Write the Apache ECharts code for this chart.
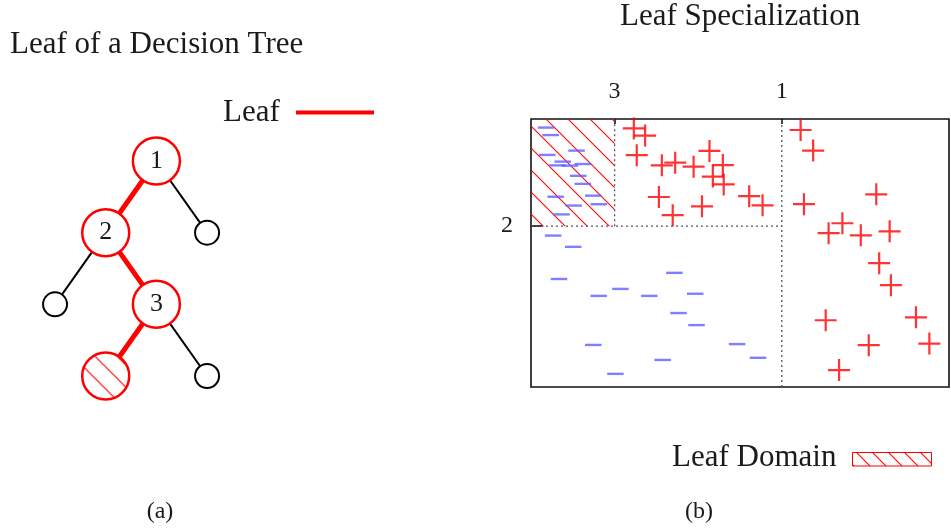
<!DOCTYPE html>
<html>
<head>
<meta charset="utf-8">
<script src="https://cdn.jsdelivr.net/npm/echarts@6/dist/echarts.min.js"></script>
<style>
  html, body { margin: 0; padding: 0; background: #fff; }
  #chart { width: 951px; height: 528px; }
</style>
</head>
<body>
<div id="chart"></div>
<script>
// ---- Decision tree (panel a) ----
// kind: 'split' = internal test node, 'chosen' = the highlighted leaf, 'leaf' = other leaves
const treeData = {
  name: '1', kind: 'split', children: [
    { name: '2', kind: 'split', children: [
      { name: '', kind: 'leaf' },
      { name: '3', kind: 'split', children: [
        { name: '', kind: 'chosen' },
        { name: '', kind: 'leaf' }
      ] }
    ] },
    { name: '', kind: 'leaf' }
  ]
};

// ---- Feature space (panel b), both axes in 0..100 ----
const axisMin = 0;
const axisMax = 100;
const splitX3 = 20;   // threshold of node 3
const splitX1 = 60;   // threshold of node 1
const splitY2 = 60;   // threshold of node 2
const xSplitTicks = [splitX3, splitX1];
const xSplitNames = ['3', '1'];
const ySplitTicks = [splitY2];
const ySplitNames = ['2'];

// class "-" samples
const negativePoints = [
  [3.6, 96.8], [4.7, 94.0], [10.9, 88.2], [3.9, 86.6], [7.6, 84.1], [12.4, 83.2],
  [6.3, 82.7], [9.3, 82.6], [11.3, 78.8], [12.4, 75.8], [14.9, 71.4], [5.9, 71.0],
  [16.2, 68.2], [10.2, 67.7], [7.3, 64.4],
  [5.3, 56.5], [10.1, 52.3], [34.3, 42.6], [6.7, 40.3], [21.4, 36.6], [16.2, 34.0],
  [28.3, 34.0], [39.3, 34.8], [35.3, 27.6], [39.6, 23.1], [14.9, 15.7], [49.3, 16.0],
  [54.3, 10.9], [31.5, 10.1], [20.2, 4.9]
];

// class "+" samples
const positivePoints = [
  [24.6, 96.5], [27.3, 93.8], [25.3, 86.5], [31.3, 82.7], [34.5, 83.7], [38.9, 82.2],
  [42.7, 88.1], [45.9, 82.8], [43.5, 78.5], [46.1, 75.6], [30.6, 70.9], [33.9, 64.1],
  [40.9, 67.4], [52.2, 71.2], [55.4, 67.8],
  [64.5, 95.9], [67.5, 88.2], [65.3, 68.2], [82.6, 71.9], [74.5, 61.1], [71.2, 57.4],
  [78.9, 56.6], [85.8, 58.1], [83.3, 46.2], [86.1, 38.0], [70.5, 24.9], [92.1, 26.0],
  [80.8, 15.6], [95.3, 16.2], [73.7, 6.3]
];

// ---- styling ----
const RED = '#ff0000';
const BLUE = '#5f5fff';
const INK = '#1a1a1a';
const SERIF = '"Liberation Serif", "DejaVu Serif", serif';

// tile of "\" hatching lines, spacing px horizontally
function hatchTile(spacing, offset, background) {
  const c = document.createElement('canvas');
  c.width = spacing; c.height = spacing;
  const g = c.getContext('2d');
  if (background) {
    g.fillStyle = background;
    g.fillRect(0, 0, spacing, spacing);
  }
  g.strokeStyle = RED;
  g.lineWidth = 1.1;
  for (let k = -2; k <= 2; k++) {
    const x0 = offset + k * spacing;
    g.beginPath();
    g.moveTo(x0 - 2, -2);
    g.lineTo(x0 + spacing + 2, spacing + 2);
    g.stroke();
  }
  return c;
}
const plotHatch = hatchTile(22, 9);
const nodeHatch = hatchTile(22, 9, '#ffffff');
const legendHatch = hatchTile(16, 4);

function hatchFill(tile, scale) {
  return { image: tile, repeat: 'repeat', scaleX: scale, scaleY: scale };
}

const BIG = 47;
const SMALL = 24;

function styleNode(n) {
  const isLeaf = n.kind === 'leaf';
  const size = isLeaf ? SMALL : BIG;
  const out = {
    name: n.name,
    symbolSize: size,
    itemStyle: isLeaf
      ? { color: '#fff', borderColor: '#000', borderWidth: 2 }
      : { color: n.kind === 'chosen' ? hatchFill(nodeHatch, 2 / size) : '#fff',
          borderColor: RED, borderWidth: 2.5 },
    lineStyle: isLeaf
      ? { color: '#000', width: 2, curveness: 0 }
      : { color: RED, width: 5, curveness: 0 },
    label: { show: n.kind === 'split' }
  };
  if (n.children) out.children = n.children.map(styleNode);
  return out;
}

const plusPath = 'path://M9,0h2v9h9v2h-9v9h-2v-9h-9v-2h9z';

const dotted = { color: '#555', width: 1.3, type: [2, 3] };

function splitLine(points, extra) {
  return Object.assign({
    type: 'line', data: points, symbol: 'none', silent: true,
    lineStyle: dotted, z: 1, animation: false
  }, extra || {});
}

const chart = echarts.init(document.getElementById('chart'), null, { renderer: 'canvas' });

chart.setOption({
  animation: false,
  backgroundColor: '#fff',
  grid: {
    left: 531, top: 119, width: 418, height: 268,
    show: true, borderColor: '#111', borderWidth: 1.6, backgroundColor: 'transparent'
  },
  xAxis: {
    type: 'value', position: 'top', min: axisMin, max: axisMax,
    axisLine: { show: false, onZero: false },
    splitLine: { show: false },
    axisTick: { show: true, inside: true, length: 5, customValues: xSplitTicks,
      lineStyle: { color: '#000', width: 1.5 } },
    axisLabel: { show: true, customValues: xSplitTicks, margin: 15,
      formatter: v => xSplitNames[xSplitTicks.indexOf(v)] || '',
      fontFamily: SERIF, fontSize: 24, color: INK }
  },
  yAxis: {
    type: 'value', min: axisMin, max: axisMax,
    axisLine: { show: false, onZero: false },
    splitLine: { show: false },
    axisTick: { show: true, inside: true, length: 12, customValues: ySplitTicks,
      lineStyle: { color: '#000', width: 1.5 } },
    axisLabel: { show: true, customValues: ySplitTicks, margin: 18,
      formatter: v => ySplitNames[ySplitTicks.indexOf(v)] || '',
      fontFamily: SERIF, fontSize: 24, color: INK }
  },
  series: [
    // leaf domain of node 3's left child
    splitLine([[splitX1, axisMin], [splitX1, axisMax]], {
      markArea: {
        silent: true,
        itemStyle: { color: hatchFill(plotHatch, 1), borderWidth: 0 },
        data: [[{ coord: [axisMin, splitY2] }, { coord: [splitX3, axisMax] }]]
      }
    }),
    splitLine([[axisMin, splitY2], [splitX1, splitY2]]),
    splitLine([[splitX3, splitY2], [splitX3, axisMax]]),
    {
      type: 'scatter', data: negativePoints, symbol: 'rect', symbolSize: [16.5, 2.4],
      itemStyle: { color: BLUE }, z: 3, silent: true
    },
    {
      type: 'scatter', data: positivePoints, symbol: plusPath, symbolSize: 22,
      itemStyle: { color: RED }, z: 4, silent: true
    },
    {
      type: 'tree',
      data: [styleNode(treeData)],
      orient: 'TB',
      layout: 'orthogonal',
      edgeShape: 'curve',
      left: -46.3, top: 161, width: 354.7, height: 215,
      symbol: 'circle',
      expandAndCollapse: false,
      initialTreeDepth: -1,
      roam: false,
      silent: true,
      emphasis: { disabled: true },
      lineStyle: { curveness: 0 },
      label: { position: 'inside', fontFamily: SERIF, fontSize: 26, color: INK },
      leaves: { label: { position: 'inside', fontFamily: SERIF, fontSize: 26, color: INK } }
    }
  ],
  graphic: [
    { type: 'text', x: 10, y: 45, style: { text: 'Leaf of a Decision Tree', font: '31px ' + SERIF,
      fill: INK, align: 'left', verticalAlign: 'middle' } },
    { type: 'text', x: 620, y: 17, style: { text: 'Leaf Specialization', font: '31px ' + SERIF,
      fill: INK, align: 'left', verticalAlign: 'middle' } },
    { type: 'text', x: 223, y: 113, style: { text: 'Leaf', font: '31px ' + SERIF,
      fill: INK, align: 'left', verticalAlign: 'middle' } },
    { type: 'line', shape: { x1: 296, y1: 112.5, x2: 374, y2: 112.5 },
      style: { stroke: RED, lineWidth: 4 } },
    { type: 'text', x: 672, y: 458, style: { text: 'Leaf Domain', font: '31px ' + SERIF,
      fill: INK, align: 'left', verticalAlign: 'middle' } },
    { type: 'rect', shape: { x: 852.5, y: 452.5, width: 79, height: 13.5 },
      style: { fill: hatchFill(legendHatch, 1), stroke: RED, lineWidth: 1 } },
    { type: 'text', x: 160, y: 512, style: { text: '(a)', font: '24px ' + SERIF,
      fill: INK, align: 'center', verticalAlign: 'middle' } },
    { type: 'text', x: 699, y: 512, style: { text: '(b)', font: '24px ' + SERIF,
      fill: INK, align: 'center', verticalAlign: 'middle' } }
  ]
});
</script>
</body>
</html>
